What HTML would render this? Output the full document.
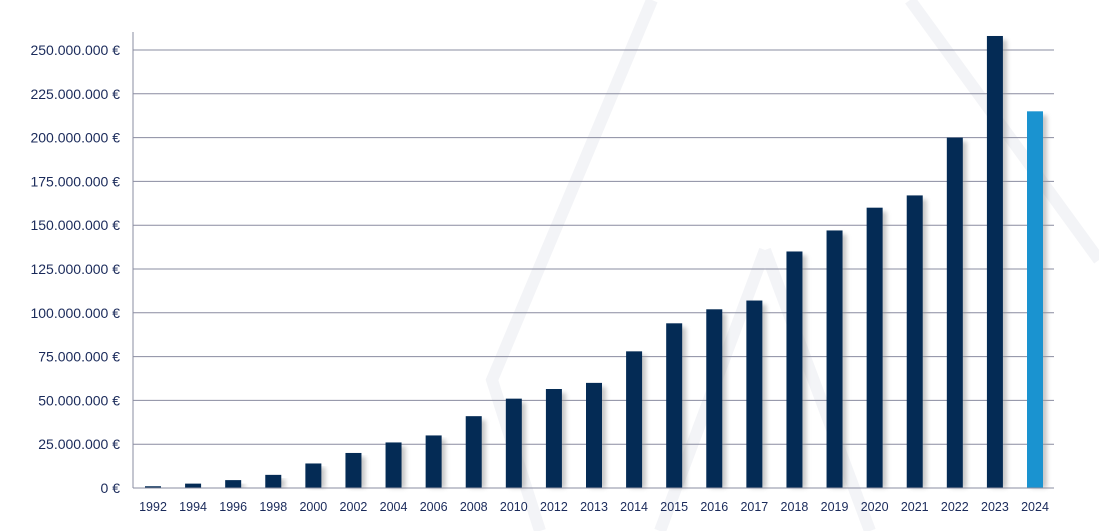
<!DOCTYPE html>
<html><head><meta charset="utf-8"><style>
html,body{margin:0;padding:0;background:#fff;width:1099px;height:531px;overflow:hidden}
svg text{font-family:"Liberation Sans",Arial,sans-serif;fill:#1a2a5a}
</style></head><body>
<svg id="chart" width="1099" height="531" viewBox="0 0 1099 531" xmlns="http://www.w3.org/2000/svg">
<defs><filter id="sh" x="-20%" y="-5%" width="160%" height="115%"><feGaussianBlur stdDeviation="2"/></filter></defs>
<g fill="none" stroke="#f3f4f7" stroke-width="12">
<path d="M652,0 L492,380 L540,531"/><path d="M910,0 L1099,260"/><path d="M765,250 L660,531"/><path d="M765,250 L870,531"/>
</g>
<g id="grid"></g>
<g id="ylabels"></g>
<g id="bars"></g>
<g id="xlabels"></g>
<line x1="133" y1="32" x2="133" y2="488" stroke="#8a8ca0" stroke-width="1"/>
<line x1="133" y1="488" x2="1054" y2="488" stroke="#8a8ca0" stroke-width="1"/>
</svg>
<script>
const categories=["1992","1994","1996","1998","2000","2002","2004","2006","2008","2010","2012","2013","2014","2015","2016","2017","2018","2019","2020","2021","2022","2023","2024"];
const values=[1,2.5,4.5,7.5,14,20,26,30,41,51,56.5,60,78,94,102,107,135,147,160,167,200,258,215];
const yTicks=[0,25,50,75,100,125,150,175,200,225,250];
const yTickLabels=["0 €","25.000.000 €","50.000.000 €","75.000.000 €","100.000.000 €","125.000.000 €","150.000.000 €","175.000.000 €","200.000.000 €","225.000.000 €","250.000.000 €"];
const NS="http://www.w3.org/2000/svg";
const y0=488,pxPer=438/250,x0=153,step=(1035-153)/22,bw=16;
const yS=v=>y0-v*pxPer, xS=i=>x0+i*step;
function mk(t,a,p){const e=document.createElementNS(NS,t);for(const k in a)e.setAttribute(k,a[k]);p.appendChild(e);return e;}
const grid=document.getElementById('grid'),yl=document.getElementById('ylabels'),bars=document.getElementById('bars'),xl=document.getElementById('xlabels');
yTicks.forEach((v,i)=>{
 if(v>0){const l=mk('line',{x1:133,x2:1054,y1:yS(v),y2:yS(v),stroke:'#8a8ca0','stroke-width':1},grid);
 
 }
 const t=mk('text',{x:120,y:yS(v)+5,'text-anchor':'end','font-size':14},yl);t.textContent=yTickLabels[i];
 
 
});
categories.forEach((c,i)=>{
 const x=xS(i)-bw/2,y=yS(values[i]),h=y0-y;
 const s=mk('rect',{x:x+4,y:y+4,width:bw,height:Math.max(h-4,0),fill:'#9a9a9a',opacity:0.55,filter:'url(#sh)'},bars);
 
 
 const r=mk('rect',{x:x,y:y,width:bw,height:h,fill:i===categories.length-1?'#1a93d0':'#042b55'},bars);
 
 
 const t=mk('text',{x:xS(i),y:511,'text-anchor':'middle','font-size':12.5},xl);t.textContent=c;
 
 
});
</script>
</body></html>
